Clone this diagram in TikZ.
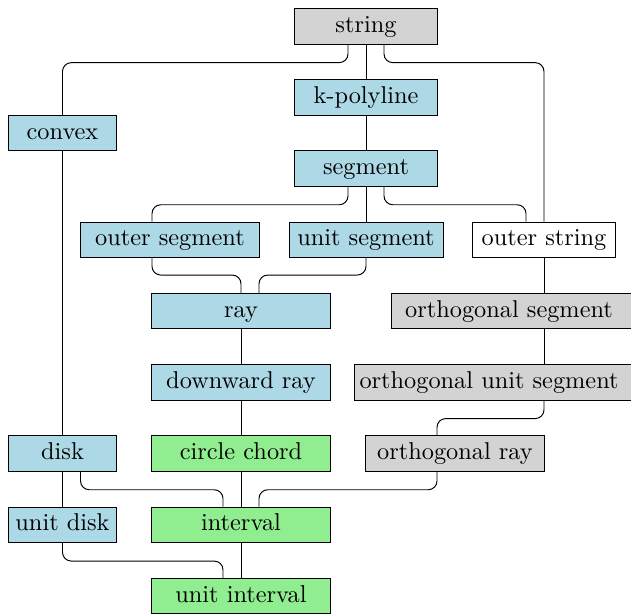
\documentclass[tikz,border=0pt]{standalone}
\usetikzlibrary{calc}
\definecolor{cBlue}{HTML}{ADD8E6}
\definecolor{cGrey}{HTML}{D3D3D3}
\definecolor{cGreen}{HTML}{90EE90}
\begin{document}
\begin{tikzpicture}[x=0.411pt,y=-0.411pt,
  box/.style={draw=black, line width=0.4pt, inner sep=0pt, minimum height=14.6pt,
    text height=6.9pt, text depth=1.95pt},
  bl/.style={box, fill=cBlue},
  gr/.style={box, fill=cGrey},
  gn/.style={box, fill=cGreen},
  wh/.style={box, fill=white},
  wA/.style={minimum width=58.4pt},
  wB/.style={minimum width=44pt},
  wC/.style={minimum width=73.2pt},
  wD/.style={minimum width=63.3pt},
  link/.style={draw=black, line width=0.4pt, rounded corners=3.6pt}]
\useasboundingbox (0,0) rectangle (631,613);
% nodes
\node[gr,wA] (string) at (366,26.4) {string};
\node[bl,wA] (kpoly) at (366,97.5) {k-polyline};
\node[bl,wB] (convex) at (62.5,133) {convex};
\node[bl,wA] (segment) at (366,168.5) {segment};
\node[bl,wC] (outerseg) at (170,239.8) {outer segment};
\node[bl,wD] (unitseg) at (366,239.8) {unit segment};
\node[wh,wA] (outerstr) at (544,239.8) {outer string};
\node[bl,wC] (ray) at (241,311) {ray};
\node[gr,anchor=west,inner xsep=5.75pt,text width=90.8pt,align=left] (orthseg) at (390.7,311) {orthogonal segment};
\node[bl,wC] (downray) at (241,382.3) {downward ray};
\node[gr,anchor=west,inner xsep=2.06pt,text width=113.4pt,align=left] (orthunit) at (354,382.3) {orthogonal unit segment};
\node[bl,wB] (disk) at (62.5,453.5) {disk};
\node[gn,wC] (chord) at (241,453.5) {circle chord};
\node[gr,wC] (orthray) at (455,453.5) {orthogonal ray};
\node[bl,wB] (unitdisk) at (62.5,524.8) {unit disk};
\node[gn,wC] (interval) at (241,524.8) {interval};
\node[gn,wC] (unitint) at (241,596) {unit interval};
% connectors
\draw[link] ($(string.south)+(-18,0)$) -- ++(0,18) -| (convex.north);
\draw[link] (string.south) -- (kpoly.north);
\draw[link] ($(string.south)+(18,0)$) -- ++(0,18) -| (outerstr.north);
\draw[link] (kpoly.south) -- (segment.north);
\draw[link] (convex.south) -- (disk.north);
\draw[link] ($(segment.south)+(-18,0)$) -- ++(0,18) -| ($(outerseg.north)+(-18,0)$);
\draw[link] (segment.south) -- (unitseg.north);
\draw[link] ($(segment.south)+(18,0)$) -- ++(0,18) -| ($(outerstr.north)+(-18,0)$);
\draw[link] ($(outerseg.south)+(-18,0)$) -- ++(0,17) -| (ray.north);
\draw[link] (unitseg.south) -- ++(0,17) -| ($(ray.north)+(18,0)$);
\draw[link] (outerstr.south) -- (orthseg.north -| outerstr.south);
\draw[link] (ray.south) -- (downray.north);
\draw[link] (orthseg.south -| outerstr.south) -- (orthunit.north -| outerstr.south);
\draw[link] (downray.south) -- (chord.north);
\draw[link] (orthunit.south -| outerstr.south) -- ++(0,18) -| ($(orthray.north)+(-18,0)$);
\draw[link] (disk.south) -- (unitdisk.north);
\draw[link] ($(disk.south)+(18,0)$) -- ++(0,18) -| ($(interval.north)+(-18,0)$);
\draw[link] (chord.south) -- (interval.north);
\draw[link] ($(orthray.south)+(-18,0)$) -- ++(0,18) -| ($(interval.north)+(18,0)$);
\draw[link] (unitdisk.south) -- ++(0,18) -| ($(unitint.north)+(-18,0)$);
\draw[link] (interval.south) -- (unitint.north);
\end{tikzpicture}
\end{document}
